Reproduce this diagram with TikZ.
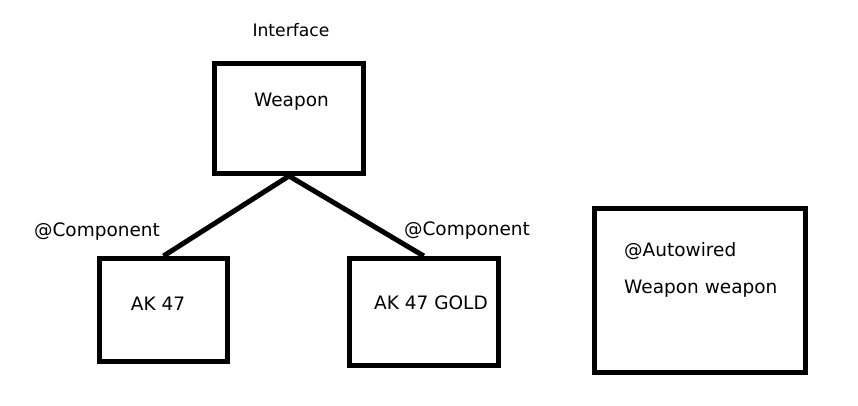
\documentclass[tikz,border=0pt]{standalone}
\usepackage{fontspec}
\setmainfont{DejaVu Sans}
\usepackage{tikz}
\usetikzlibrary{positioning}

\begin{document}
\begin{tikzpicture}[
        x=1pt, y=-1pt,
        box/.style={rectangle, draw=black, line width=5pt, minimum width=#1},
        txt/.style={inner sep=0pt, anchor=base, font=\fontsize{18.5}{22}\selectfont},
        link/.style={draw=black, line width=5pt}
    ]
    \useasboundingbox (0,0) rectangle (858,406);

    % Interface
    \node[box=149pt, minimum height=110pt] (weapon) at (289,118.5) {};
    \node[txt] (weaponname) at (291.5,106.5) {Weapon};
    \node[txt, font=\fontsize{17.2}{20}\selectfont] (interface) at (291,36.5) {Interface};

    % Components
    \node[box=128pt, minimum height=103pt] (ak) at (163.5,310) {};
    \node[txt] (akname) at (158,310) {AK 47};
    \node[txt] (akcomp) at (97,236.5) {@Component};

    \node[box=148.5pt, minimum height=107pt] (gold) at (423.75,312) {};
    \node[txt] (goldname) at (431,309.5) {AK 47 GOLD};
    \node[txt] (goldcomp) at (467,235) {@Component};

    % Autowired
    \node[box=211pt, minimum height=164pt] (client) at (700,290.5) {};
    \node[txt, anchor=base west] (autowired) at (624,256.5) {@Autowired};
    \node[txt, anchor=base west] (field) at (624,293) {Weapon weapon};

    % Lines
    \draw[link] (ak.north) -- (weapon.south) -- (gold.north);

\end{tikzpicture}
\end{document}
